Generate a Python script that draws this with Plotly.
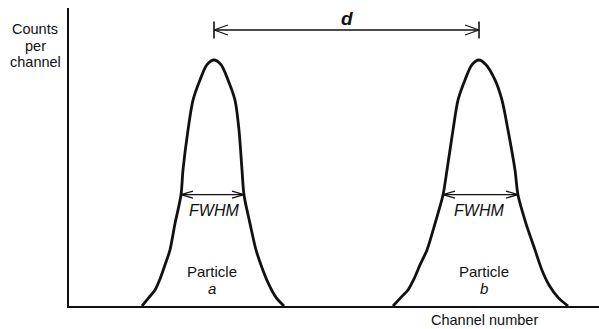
import plotly.graph_objects as go

# Outline of the two peaks: channel number vs counts (peak height normalised to 100)
peak_a_channel = [73, 80, 86, 91, 96, 101, 106, 112, 114, 119, 124, 131, 138, 145,
                  152, 159, 166, 170, 173, 175, 181, 187, 192, 199, 207, 215]
peak_a_counts = [0, 3.5, 6.5, 11, 16.7, 22.8, 33.5, 45.1, 55.3, 71.5, 83.7, 91.9, 98.1, 100,
                 98.1, 91.9, 83.7, 71.5, 55.3, 45.1, 33.5, 22.8, 16.7, 9.5, 3.5, 0]
peak_b_channel = [324, 332, 339, 345, 351, 358, 366, 374, 378, 384, 389, 396, 403, 410,
                  417, 426, 433, 439, 446, 449, 457, 466, 473, 480, 489, 499]
peak_b_counts = [0, 3.5, 6.5, 11, 16.7, 22.8, 33.5, 45.1, 55.3, 71.5, 83.7, 91.9, 98.1, 100,
                 98.1, 91.9, 83.7, 71.5, 55.3, 45.1, 33.5, 22.8, 14.5, 8.5, 3.5, 0]

peak_centres = [145, 410]
peak_names = ["a", "b"]

# Full width markers (left / right edge of each peak at the marker level)
fwhm_level = 45.3
fwhm_left = [112, 374]
fwhm_right = [175, 449]

# Separation marker between the two peak centres
sep_level = 112.2

# Axis ranges
x_range = [0, 530]
y_range = [0, 121.14]

W, H = 599, 329
M = dict(l=69, r=0, t=8, b=23)
plot_w = W - M["l"] - M["r"]
plot_h = H - M["t"] - M["b"]
sx = (x_range[1] - x_range[0]) / plot_w   # channels per pixel
sy = (y_range[1] - y_range[0]) / plot_h   # counts per pixel

INK = "#111111"
FONT = "Liberation Sans"

fig = go.Figure()
for xs, ys in [(peak_a_channel, peak_a_counts), (peak_b_channel, peak_b_counts)]:
    fig.add_trace(go.Scatter(
        x=xs, y=ys, mode="lines",
        line=dict(color=INK, width=2.8, shape="spline", smoothing=0.8),
        hoverinfo="skip", showlegend=False, cliponaxis=False,
    ))

shapes = []


def seg(x0, y0, x1, y1, w=1.3):
    shapes.append(dict(type="line", xref="x", yref="y", x0=x0, y0=y0, x1=x1, y1=y1,
                       line=dict(color=INK, width=w)))


def double_arrow(x0, x1, y, head_len=13, head_half=4, bar_half=None):
    seg(x0, y, x1, y)
    for tip, d in [(x0, 1), (x1, -1)]:
        seg(tip, y, tip + d * head_len * sx, y + head_half * sy)
        seg(tip, y, tip + d * head_len * sx, y - head_half * sy)
        if bar_half:
            seg(tip, y - bar_half * sy, tip, y + bar_half * sy, w=1.6)


for xl, xr in zip(fwhm_left, fwhm_right):
    double_arrow(xl, xr, fwhm_level, head_len=12, head_half=3.5)

double_arrow(peak_centres[0], peak_centres[1], sep_level, head_len=14, head_half=5, bar_half=8.5)

ann = []


def text(x, y, s, size=14.5, italic=False, weight="normal"):
    # positions given in data units, placed through paper coordinates so
    # labels outside the axis ranges are still drawn
    px = (x - x_range[0]) / (x_range[1] - x_range[0])
    py = (y - y_range[0]) / (y_range[1] - y_range[0])
    ann.append(dict(x=px, y=py, xref="paper", yref="paper", text=s, showarrow=False,
                    xanchor="center", yanchor="middle",
                    font=dict(family=FONT, size=size, color=INK,
                              style="italic" if italic else "normal", weight=weight)))


# Axis titles
for i, line in enumerate(["Counts", "per", "channel"]):
    text(-34, (306 - 29 - 16.5 * i) * sy, line, size=14.5)
text(415, -14 * sy, "Channel number", size=14.5)

# Peak labels
for c, name in zip(peak_centres, peak_names):
    dx = -2 if name == "a" else 5
    text(c + dx, 35 * sy, "Particle", size=15)
    text(c + dx, 18 * sy, name, size=15, italic=True)
    text(c, 96 * sy, "FWHM", size=16, italic=True)

text((peak_centres[0] + peak_centres[1]) / 2, 287 * sy, "d", size=19, italic=True, weight="bold")

fig.update_layout(
    width=W, height=H, margin=M,
    paper_bgcolor="white", plot_bgcolor="white",
    shapes=shapes, annotations=ann,
    xaxis=dict(range=x_range, showline=True, linewidth=2.4, linecolor=INK,
               showgrid=False, zeroline=False, showticklabels=False, ticks=""),
    yaxis=dict(range=y_range, showline=True, linewidth=2.4, linecolor=INK,
               showgrid=False, zeroline=False, showticklabels=False, ticks=""),
)

fig.write_html("out.html")
